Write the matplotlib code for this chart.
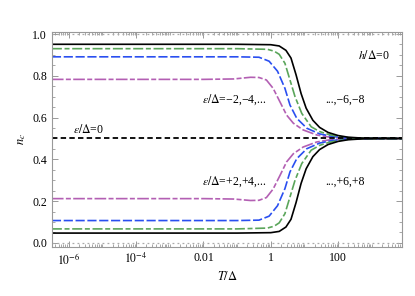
import numpy as np
import matplotlib
matplotlib.use("Agg")
import matplotlib.pyplot as plt
from matplotlib.ticker import FixedLocator, LogLocator, MultipleLocator, NullFormatter

plt.rcParams['font.family'] = ['Liberation Serif', 'DejaVu Serif']
plt.rcParams['mathtext.fontset'] = 'stix'

# log10(T/Delta) and n_c
logT_black = [-6.5, -1.0, 0.0, 0.25, 0.45, 0.6, 0.75, 0.9, 1.05, 1.25, 1.45, 1.7, 2.0, 2.3, 2.7, 3.2, 3.9]
n_black_up = [0.951, 0.951, 0.949, 0.943, 0.922, 0.885, 0.805, 0.715, 0.645, 0.587, 0.553, 0.529, 0.514, 0.506, 0.502, 0.5005, 0.5]
n_black_dn = [0.047, 0.047, 0.049, 0.055, 0.076, 0.113, 0.193, 0.285, 0.355, 0.413, 0.447, 0.471, 0.486, 0.494, 0.498, 0.4995, 0.5]

logT_green = [-6.5, -1.0, -0.1, 0.1, 0.25, 0.42, 0.57, 0.72, 0.92, 1.2, 1.45, 1.7, 2.0, 2.3, 2.7, 3.2, 3.9]
n_green_up = [0.930, 0.930, 0.927, 0.918, 0.903, 0.860, 0.780, 0.700, 0.620, 0.556, 0.533, 0.520, 0.510, 0.504, 0.501, 0.5003, 0.5]
n_green_dn = [0.067, 0.067, 0.071, 0.080, 0.096, 0.140, 0.220, 0.300, 0.380, 0.444, 0.467, 0.480, 0.490, 0.496, 0.499, 0.4997, 0.5]

logT_blue = [-6.5, -1.0, -0.35, -0.05, 0.2, 0.42, 0.57, 0.77, 1.07, 1.45, 1.85, 2.2, 2.6, 3.1, 3.9]
n_blue_up = [0.891, 0.891, 0.889, 0.870, 0.822, 0.740, 0.660, 0.597, 0.549, 0.522, 0.509, 0.504, 0.501, 0.5003, 0.5]
n_blue_dn = [0.107, 0.107, 0.109, 0.128, 0.178, 0.260, 0.340, 0.403, 0.451, 0.478, 0.491, 0.496, 0.499, 0.4997, 0.5]

logT_mag = [-6.5, -2.0, -1.1, -0.6, -0.35, -0.13, 0.07, 0.27, 0.47, 0.67, 0.96, 1.36, 1.76, 2.2, 2.7, 3.2, 3.9]
n_mag_up = [0.783, 0.783, 0.785, 0.793, 0.792, 0.780, 0.740, 0.676, 0.612, 0.573, 0.541, 0.517, 0.506, 0.502, 0.5006, 0.5002, 0.5]
n_mag_dn = [0.212, 0.212, 0.210, 0.203, 0.204, 0.217, 0.258, 0.322, 0.388, 0.427, 0.459, 0.483, 0.494, 0.498, 0.4994, 0.4998, 0.5]

n_half = 0.5
x_ticks = [1e-6, 1e-4, 1e-2, 1, 100]
x_ticklabels = [r'$10^{-6}$', r'$10^{-4}$', '0.01', '1', '100']

fig = plt.figure(figsize=(4.15, 2.96), dpi=100)
ax = fig.add_axes([0.125, 0.166, 0.844, 0.726])

gray = '#999999'
ax.axhline(0.0, color='#aaaaaa', lw=0.9, ls=(0, (1.5, 2.5)))
ax.axhline(1.0, color='#aaaaaa', lw=0.9, ls=(0, (1.5, 2.5)))

lw = 1.2
styles = [
    (logT_mag, n_mag_up, n_mag_dn, '#b35fb3', (0, (7, 1.4, 3, 1.4))),
    (logT_blue, n_blue_up, n_blue_dn, '#2a4ff0', (0, (5.5, 1.6))),
    (logT_green, n_green_up, n_green_dn, '#5aa55a', (0, (6, 1.6, 3, 1.6))),
    (logT_black, n_black_up, n_black_dn, 'black', '-'),
]
for lt, up, dn, col, ls in styles:
    T = 10.0 ** np.array(lt)
    ax.plot(T, up, color=col, lw=lw, ls=ls)
    ax.plot(T, dn, color=col, lw=lw, ls=ls)

ax.axhline(n_half, color='black', lw=1.3, ls=(0, (3, 1.8)))

ax.set_xscale('log')
ax.set_xlim(10 ** -6.5, 10 ** 3.9)
ax.set_ylim(-0.019, 1.01)

ax.xaxis.set_major_locator(FixedLocator(x_ticks))
ax.set_xticklabels(x_ticklabels)
ax.xaxis.set_minor_locator(LogLocator(base=10, subs=np.arange(1, 10), numticks=30))
ax.xaxis.set_minor_formatter(NullFormatter())
ax.yaxis.set_major_locator(MultipleLocator(0.2))
ax.yaxis.set_minor_locator(MultipleLocator(0.05))
ax.set_yticklabels(['%.1f' % v for v in ax.get_yticks()])
ax.set_ylim(-0.019, 1.01)

for s in ax.spines.values():
    s.set_color(gray)
    s.set_linewidth(0.8)
ax.tick_params(which='both', direction='in', top=True, right=True, color=gray, labelsize=8.5)
ax.tick_params(which='major', length=4, width=0.7)
ax.tick_params(which='minor', length=2, width=0.6)

ax.set_xlabel(r'$T/\Delta$', fontsize=9, labelpad=2)
ax.set_ylabel(r'$n_c$', fontsize=9, labelpad=3)

fs = 8.5
ax.text(10 ** 3.05, 0.895, r'$h/\Delta$=0', fontsize=fs, ha='center', va='center')
ax.text(10 ** -1.1, 0.686, r'$\epsilon/\Delta$=−2,−4,...', fontsize=fs, ha='center', va='center')
ax.text(10 ** 2.2, 0.686, '...,−6,−8', fontsize=fs, ha='center', va='center')
ax.text(10 ** -5.4, 0.545, r'$\epsilon/\Delta$=0', fontsize=fs, ha='center', va='center')
ax.text(10 ** -1.1, 0.292, r'$\epsilon/\Delta$=+2,+4,...', fontsize=fs, ha='center', va='center')
ax.text(10 ** 2.2, 0.292, '...,+6,+8', fontsize=fs, ha='center', va='center')

fig.savefig('out.png', dpi=100)
